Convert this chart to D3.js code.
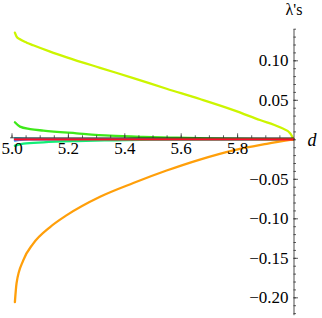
<!DOCTYPE html>
<html>
<head>
<meta charset="utf-8">
<script src="https://cdn.jsdelivr.net/npm/d3@7"></script>
<style>
  body { margin: 0; background: #fff; }
</style>
</head>
<body>
<div id="chart"></div>
<script>
// values
const yellowD = [5.012, 5.018, 5.03, 5.054, 5.077, 5.137, 5.196, 5.314, 5.432, 5.55, 5.668, 5.787, 5.881, 5.952, 5.988, 6.0];
const yellowV = [0.135, 0.130, 0.1266, 0.1223, 0.119, 0.111, 0.1038, 0.0905, 0.0775, 0.064, 0.051, 0.037, 0.0244, 0.0152, 0.0076, 0];

const orangeD = [5.012, 5.018, 5.042, 5.077, 5.137, 5.196, 5.314, 5.432, 5.55, 5.668, 5.787, 5.905, 6.0];
const orangeV = [-0.206, -0.182, -0.153, -0.132, -0.111, -0.096, -0.0727, -0.0553, -0.0395, -0.0256, -0.0139, -0.0057, 0];

const greenD = [5.012, 5.03, 5.066, 5.113, 5.231, 5.349, 5.467, 5.586, 5.704, 5.846, 6.0];
const greenV = [0.0215, 0.016, 0.013, 0.011, 0.0076, 0.0046, 0.003, 0.002, 0.0012, 0.0005, 0];

const springD = [5.012, 5.042, 5.113, 5.231, 5.349, 5.5, 6.0];
const springV = [-0.0081, -0.0056, -0.0038, -0.0022, -0.0013, -0.0005, 0];

const cyanD = [5.012, 5.04, 5.08, 5.2, 6.0];
const cyanV = [0.0016, 0.0009, 0.0004, 0.0001, 0];

const blueD = [5.012, 5.03, 5.06, 6.0];
const blueV = [-0.0017, -0.0008, -0.0002, 0];

const redD = [5.012, 6.0];
const redV = [0, 0];

const xTicks = [5.0, 5.2, 5.4, 5.6, 5.8];
const yTicks = [-0.20, -0.15, -0.10, -0.05, 0.05, 0.10];

const serif = "'Liberation Serif', 'Times New Roman', Times, 'DejaVu Serif', serif";

const series = [
    {d: blueD, v: blueV, color: "#2a8cff"},
    {d: cyanD, v: cyanV, color: "#33e0ff"},
    {d: springD, v: springV, color: "#11ee77"},
    {d: greenD, v: greenV, color: "#3fe81a"},
    {d: orangeD, v: orangeV, color: "#ff9f0a"},
    {d: yellowD, v: yellowV, color: "#ccf500"},
    {d: redD, v: redV, color: "#ff0a2a"}
];

const width = 322, height = 318;

const svg = d3.select("#chart").append("svg")
    .attr("width", width)
    .attr("height", height);

const x = d3.scaleLinear().domain([5.0, 6.0]).range([11.5, 293.5]);
const y = d3.scaleLinear().domain([-0.222, 0.140]).range([314.7, 28.7]);

const line = d3.line()
    .x(p => x(p[0]))
    .y(p => y(p[1]))
    .curve(d3.curveMonotoneX);

svg.selectAll(".curve")
    .data(series)
    .enter().append("path")
    .attr("class", "curve")
    .attr("d", s => line(s.d.map((d, i) => [d, s.v[i]])))
    .attr("fill", "none")
    .attr("stroke", s => s.color)
    .attr("stroke-width", 2.3)
    .attr("stroke-linecap", "round");

// x axis, drawn along the top edge of the red zero line
const axisY = y(0) - 1.5;
const minorX = d3.range(0, 20).map(i => 5.0 + i * 0.05);
const xMinor = d3.axisBottom(x).tickValues(minorX).tickSize(-2.5).tickSizeOuter(0).tickFormat("");
const xAxis = d3.axisBottom(x).tickValues(xTicks).tickSize(-4.5).tickSizeOuter(0).tickPadding(4)
    .tickFormat(d3.format(".1f"));

const xg = svg.append("g").attr("transform", `translate(0,${axisY})`);
xg.call(xMinor);
xg.select(".domain").remove();
const xg2 = svg.append("g").attr("transform", `translate(0,${axisY})`).call(xAxis);
xg2.select(".domain").attr("d", `M${x(4.995)},0H${x(6.0)}`);

// y axis
const minorY = d3.range(-22, 15).map(v => v / 100);
const yMinor = d3.axisLeft(y).tickValues(minorY).tickSize(-2.5).tickSizeOuter(0).tickFormat("");
const yAxis = d3.axisLeft(y).tickValues(yTicks).tickSize(-4.5).tickSizeOuter(0).tickPadding(5)
    .tickFormat(d3.format(".2f"));

const yg = svg.append("g").attr("transform", `translate(${x(6.0)},0)`);
yg.call(yMinor);
yg.select(".domain").remove();
svg.append("g").attr("transform", `translate(${x(6.0)},0)`).call(yAxis);

svg.selectAll(".tick line").attr("stroke", "#333").attr("stroke-width", 0.8);
svg.selectAll(".domain").attr("stroke", "#222").attr("stroke-width", 0.8);
svg.selectAll(".tick text")
    .style("font-family", serif)
    .style("font-size", "17px")
    .attr("fill", "#000");

// axis labels
svg.append("text")
    .attr("x", 294).attr("y", 15)
    .attr("text-anchor", "middle")
    .style("font-family", serif)
    .style("font-size", "16px")
    .text("λ's");

svg.append("text")
    .attr("x", 312).attr("y", 146)
    .attr("text-anchor", "middle")
    .style("font-family", serif)
    .style("font-size", "18px")
    .style("font-style", "italic")
    .text("d");
</script>
</body>
</html>
